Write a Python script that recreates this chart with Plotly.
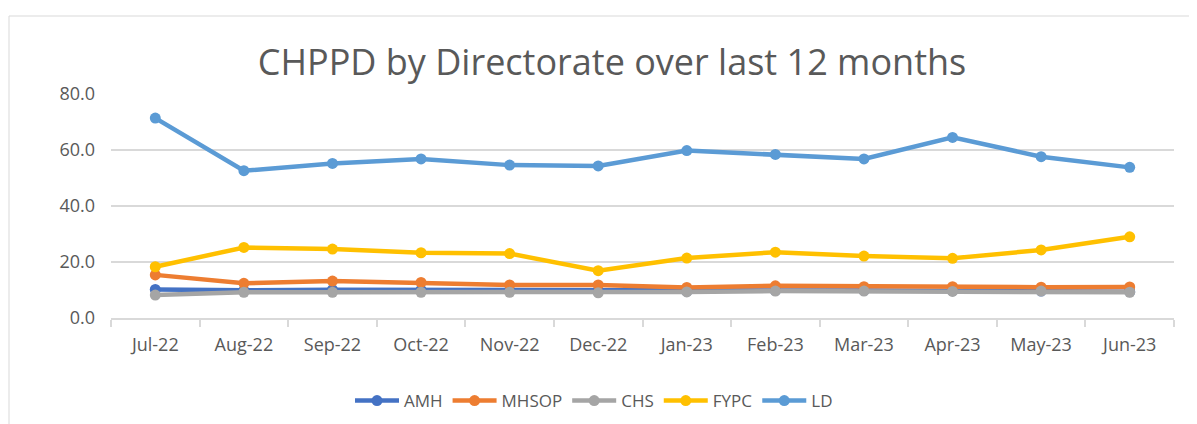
import plotly.graph_objects as go

months = ["Jul-22", "Aug-22", "Sep-22", "Oct-22", "Nov-22", "Dec-22",
          "Jan-23", "Feb-23", "Mar-23", "Apr-23", "May-23", "Jun-23"]
amh = [10.2, 9.9, 10.1, 10.0, 9.9, 9.8, 9.5, 9.8, 9.8, 9.7, 9.6, 9.4]
mhsop = [15.4, 12.4, 13.2, 12.7, 11.8, 11.8, 10.9, 11.5, 11.2, 11.2, 11.0, 11.1]
chs = [8.2, 9.2, 9.2, 9.2, 9.2, 9.0, 9.3, 9.6, 9.6, 9.5, 9.6, 9.2]
fypc = [18.3, 25.2, 24.6, 23.3, 23.0, 16.9, 21.4, 23.5, 22.1, 21.3, 24.3, 29.0]
ld = [71.4, 52.6, 55.2, 56.8, 54.6, 54.3, 59.8, 58.4, 56.8, 64.5, 57.6, 53.8]

series = [("AMH", amh, "#4472C4"), ("MHSOP", mhsop, "#ED7D31"),
          ("CHS", chs, "#A5A5A5"), ("FYPC", fypc, "#FFC000"), ("LD", ld, "#5B9BD5")]

fig = go.Figure()
for name, vals, col in series:
    fig.add_trace(go.Scatter(x=months, y=vals, name=name, mode="lines+markers",
                             line=dict(color=col, width=4.5),
                             marker=dict(color=col, size=11)))

font = "Open Sans, Liberation Sans, sans-serif"
OFF = 8  # page body offset
L, T, PW, PH = 111 - OFF, 94 - OFF, 1063, 224
fig.update_layout(
    width=1197, height=424,
    margin=dict(l=L, r=1197 - L - PW, t=T, b=424 - T - PH, autoexpand=False),
    paper_bgcolor="white", plot_bgcolor="white",
    title=dict(text="CHPPD by Directorate over last 12 months",
               x=(612 - OFF) / 1197, xanchor="center",
               y=1 - (62 - OFF) / 424, yanchor="middle",
               font=dict(family=font, size=36, color="#595959")),
    font=dict(family=font, size=17, color="#595959"),
    showlegend=True,
    legend=dict(orientation="h", x=(594 - OFF) / 1197, xanchor="center", xref="container",
                yref="container", y=1 - (401 - OFF) / 424, yanchor="middle",
                itemwidth=44,
                font=dict(family=font, size=17, color="#595959"), traceorder="normal"),
    xaxis=dict(type="category", range=[-0.5, 11.5], showgrid=False, showline=True,
               linecolor="#D9D9D9", linewidth=1.5, ticks="outside",
               tickson="boundaries", ticklen=7,
               tickcolor="#D9D9D9", tickwidth=1.5, automargin=False,
               ticklabelstandoff=10,
               tickfont=dict(size=18, color="#595959")),
    yaxis=dict(range=[0, 80], dtick=20, tickformat=".1f", showgrid=True,
               gridcolor="#D9D9D9", gridwidth=1.5, zeroline=False, showline=False,
               ticks="", automargin=False, ticklabelstandoff=15,
               tickfont=dict(size=18, color="#595959")),
    shapes=[dict(type="rect", xref="paper", yref="paper",
                 x0=(OFF + 1 - 111) / PW, x1=(1196 - 111) / PW,
                 y0=-0.6, y1=(318 - 16) / PH,
                 line=dict(color="#D9D9D9", width=1), fillcolor="rgba(0,0,0,0)",
                 layer="below")],
)

fig.write_html("out.html")
